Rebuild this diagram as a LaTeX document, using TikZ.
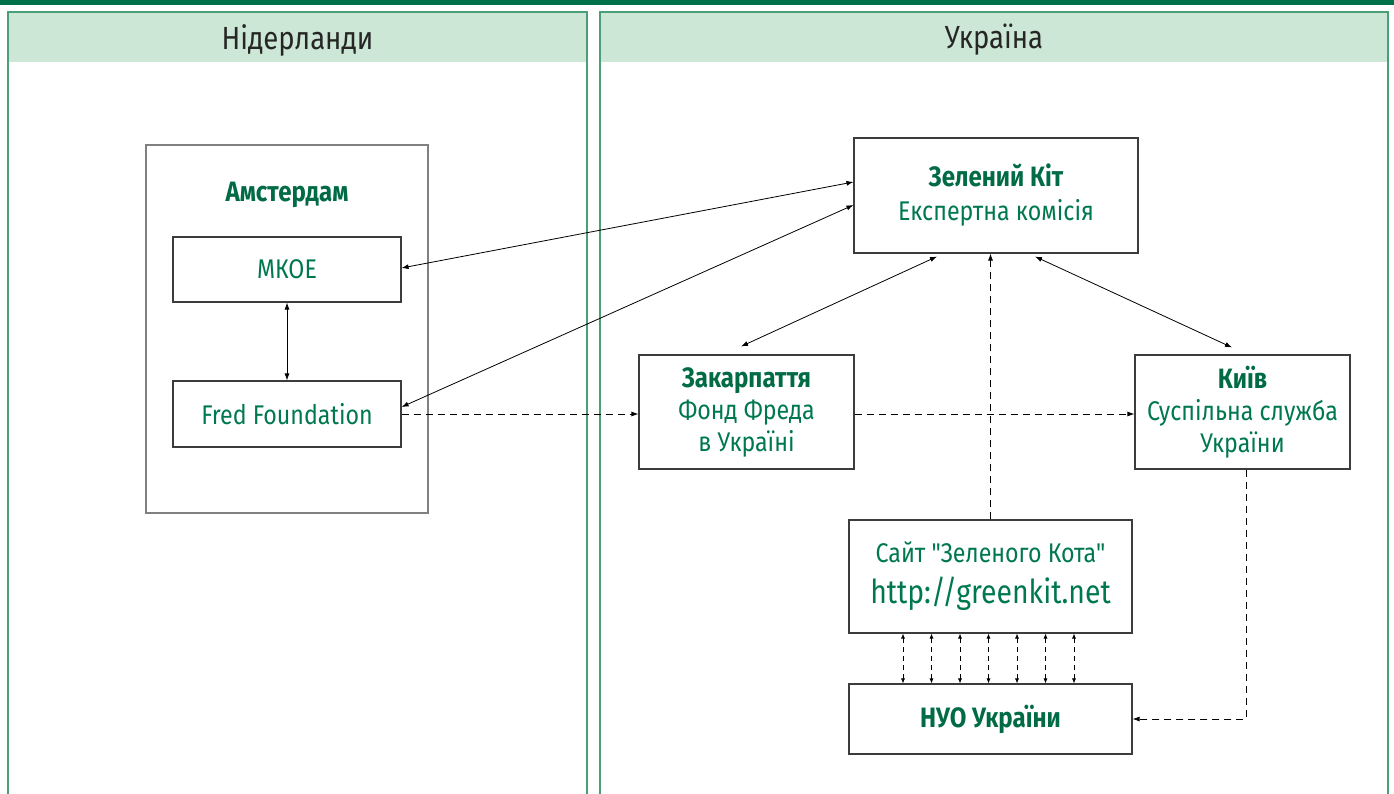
\documentclass[tikz,border=0pt]{standalone}
\usepackage{fontspec}
\setmainfont{Fira Sans}[FakeStretch=0.86,Ligatures=TeXOff]
\usetikzlibrary{arrows.meta}

\begin{document}
\begin{tikzpicture}[x=1pt,y=-1pt,
  box/.style={draw=boxline,line width=1.1pt,inner sep=0pt,align=center,
    text=kitgreen,font=\fontsize{27}{32}\selectfont},
  title/.style={text=kitdark,font=\fontsize{28}{32}\selectfont\bfseries},
  link/.style={line width=0.8pt,{Latex[length=7pt,width=5pt]}-{Latex[length=7pt,width=5pt]}},
  flow/.style={line width=0.8pt,dash pattern=on 7pt off 5pt,-{Latex[length=7pt,width=5pt]}},
  sync/.style={line width=0.7pt,dash pattern=on 5pt off 4pt,{Latex[length=5pt,width=4pt]}-{Latex[length=5pt,width=4pt]}}]
\definecolor{topbar}{HTML}{00704A}
\definecolor{panelline}{HTML}{4A9E78}
\definecolor{panelfill}{HTML}{CCE7D6}
\definecolor{kitgreen}{HTML}{00784E}
\definecolor{kitdark}{HTML}{006B45}
\definecolor{boxline}{HTML}{3C3C3C}
\useasboundingbox (0,0) rectangle (1394,794);
\fill[topbar] (0,0) rectangle (1394,5);
% two panels
\foreach \xa/\xb/\ttl in {8/587/Нідерланди,600/1388/Україна}
{ \fill[panelfill] (\xa,12) rectangle (\xb,62);
  \draw[panelline,line width=1.2pt] (\xa,794) -- (\xa,12) -- (\xb,12) -- (\xb,794);
  \node[font=\fontsize{32}{38}\selectfont,text=black!85] at ({(\xa+\xb)/2},40) {\ttl};}
% Amsterdam
\draw[black!50,line width=1.1pt] (146,145) rectangle (428,513);
\node[title] (ams) at (287,195) {Амстердам};
\node[box,minimum width=228,minimum height=65] (mkoe) at (287,269.5) {МКОЕ};
\node[box,minimum width=228,minimum height=66] (fred) at (287,414) {Fred Foundation};
% Ukraine
\node[box,minimum width=284,minimum height=115] (kit) at (996,195.5)
  {{\color{kitdark}\fontsize{28}{32}\selectfont\bfseries Зелений Кіт}\\[2pt]Експертна комісія};
\node[box,minimum width=215,minimum height=114] (zak) at (746.5,412)
  {{\color{kitdark}\fontsize{28}{32}\selectfont\bfseries Закарпаття}\\Фонд Фреда\\в Україні};
\node[box,minimum width=215,minimum height=114] (kyiv) at (1242.5,412)
  {{\color{kitdark}\fontsize{28}{32}\selectfont\bfseries Київ}\\Суспільна служба\\України};
\node[box,minimum width=283,minimum height=113] (site) at (990.5,576.5)
  {Сайт "Зеленого Кота"\\[9pt]{\fontsize{33}{36}\selectfont http://greenkit.net}};
\node[box,minimum width=283,minimum height=70,title] (nuo) at (990.5,719) {НУО України};
% connectors
\draw[link] (mkoe) -- (fred);
\draw[link] ([yshift=1.5pt]mkoe.east) -- ([yshift=13.5pt]kit.west);
\draw[link] ([yshift=7pt]fred.east) -- ([yshift=-9.5pt]kit.west);
\draw[link] ([xshift=-5.5pt,yshift=8pt]zak.north) -- ([xshift=-59pt,yshift=-3pt]kit.south);
\draw[link] ([xshift=-10.5pt,yshift=7pt]kyiv.north) -- ([xshift=39pt,yshift=-3pt]kit.south);
\draw[flow] (fred.east) -- (fred.east -| zak.west);
\draw[flow] (fred.east -| zak.east) -- (fred.east -| kyiv.west);
\draw[flow] (site.north) -- (site.north |- kit.south);
\draw[flow] ([xshift=3.5pt]kyiv.south) |- (nuo.east);
\foreach \i in {0,...,6}
{ \draw[sync] ([xshift=-87.5+28.5*\i]site.south) -- ([xshift=-87.5+28.5*\i]nuo.north);}
\end{tikzpicture}
\end{document}
